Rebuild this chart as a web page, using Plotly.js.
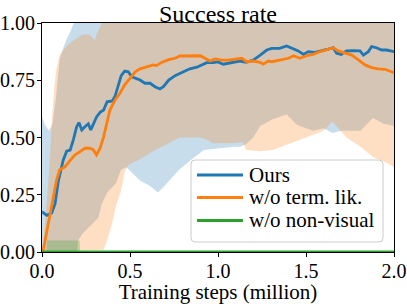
<!DOCTYPE html>
<html><head><meta charset="utf-8">
<script src="https://cdn.plot.ly/plotly-3.0.1.min.js"></script>
<style>html,body{margin:0;padding:0;background:#fff}#chart{width:407px;height:304px}</style>
</head><body><div id="chart"></div>
<script>
// ---- data ----
const seriesNames = ['Ours', 'w/o term. lik.', 'w/o non-visual'];

const oursX = [0.0,0.027,0.055,0.074,0.093,0.12,0.14,0.16,0.178,0.197,0.21,0.226,0.244,0.263,0.277,0.29,0.31,0.33,0.35,0.37,0.40,0.415,0.43,0.45,0.47,0.49,0.51,0.54,0.557,0.585,0.614,0.642,0.67,0.69,0.72,0.756,0.784,0.81,0.84,0.88,0.907,0.936,0.973,1.0,1.03,1.06,1.087,1.125,1.16,1.2,1.24,1.277,1.305,1.35,1.39,1.43,1.456,1.485,1.513,1.55,1.59,1.627,1.655,1.674,1.70,1.73,1.77,1.807,1.826,1.854,1.873,1.9,1.93,1.958,2.0];
const oursY = [0.176,0.16,0.17,0.21,0.31,0.40,0.44,0.445,0.49,0.547,0.565,0.533,0.547,0.56,0.533,0.555,0.59,0.61,0.62,0.656,0.66,0.68,0.715,0.77,0.79,0.787,0.765,0.758,0.751,0.737,0.737,0.722,0.712,0.722,0.751,0.77,0.78,0.787,0.80,0.807,0.817,0.827,0.827,0.83,0.82,0.824,0.83,0.834,0.828,0.838,0.86,0.882,0.889,0.889,0.90,0.886,0.878,0.863,0.875,0.872,0.878,0.886,0.892,0.868,0.863,0.878,0.879,0.878,0.86,0.875,0.897,0.892,0.882,0.882,0.875];
const oursUpX = [0,0.02,0.04,0.06,0.08,0.1,0.12,0.14,0.16,0.18,2.0];
const oursUpY = [0.59,0.55,0.53,0.56,0.68,0.84,0.89,0.93,0.96,1.0,1.0];
const oursLoX = [0,0.2,0.205,0.23,0.27,0.32,0.34,0.37,0.42,0.45,0.48,0.52,0.56,0.61,0.66,0.71,0.78,0.86,0.92,0.97,1.09,1.125,1.16,1.2,1.24,1.31,1.39,1.45,1.54,1.6,1.65,1.7,1.73,1.81,1.88,1.94,2.0];
const oursLoY = [0,0,0.05,0.08,0.11,0.15,0.21,0.26,0.30,0.36,0.37,0.34,0.31,0.29,0.26,0.30,0.36,0.41,0.445,0.45,0.46,0.46,0.47,0.50,0.55,0.58,0.60,0.555,0.53,0.54,0.52,0.53,0.53,0.53,0.585,0.56,0.55];

const termX = [0.005,0.02,0.035,0.045,0.064,0.083,0.10,0.13,0.16,0.1875,0.216,0.244,0.27,0.29,0.31,0.33,0.35,0.37,0.386,0.415,0.443,0.47,0.5,0.53,0.557,0.595,0.632,0.65,0.68,0.72,0.756,0.784,0.82,0.86,0.9,0.926,0.955,0.983,1.02,1.06,1.097,1.135,1.163,1.2,1.24,1.257,1.286,1.305,1.35,1.40,1.43,1.466,1.504,1.54,1.58,1.618,1.655,1.683,1.72,1.76,1.80,1.835,1.873,1.91,1.95,1.977,2.0];
const termY = [0.0,0.06,0.12,0.154,0.227,0.314,0.358,0.372,0.40,0.424,0.438,0.453,0.453,0.448,0.424,0.453,0.503,0.576,0.62,0.664,0.693,0.73,0.758,0.787,0.80,0.81,0.817,0.814,0.828,0.84,0.846,0.856,0.857,0.857,0.857,0.846,0.834,0.843,0.838,0.838,0.841,0.846,0.831,0.834,0.828,0.82,0.834,0.831,0.838,0.846,0.857,0.846,0.857,0.863,0.875,0.882,0.892,0.878,0.87,0.86,0.838,0.817,0.805,0.80,0.798,0.79,0.783];
const termUpX = [0,0.02,0.04,0.05,0.06,0.07,0.08,0.1,0.14,0.18,0.23,0.27,0.3,0.31,0.34,2.0];
const termUpY = [0.0,0.15,0.35,0.5,0.62,0.72,0.79,0.86,0.9,0.925,0.95,0.95,0.925,0.95,1.0,1.0];
const termLoX = [0,0.35,0.37,0.40,0.42,0.45,0.47,0.49,0.52,0.57,0.63,0.71,0.78,0.84,0.9,0.94,0.97,1.09,1.14,1.16,1.24,1.31,1.41,1.5,1.6,1.65,1.73,1.81,1.88,1.96,2.0];
const termLoY = [0,0.01,0.05,0.13,0.20,0.27,0.35,0.38,0.39,0.41,0.44,0.47,0.50,0.50,0.50,0.49,0.475,0.475,0.48,0.445,0.44,0.445,0.475,0.50,0.53,0.57,0.50,0.46,0.415,0.39,0.37];

const visX = [0,0.5,1.0,1.5,2.0];
const visY = [0,0,0,0,0];
const visUpX = [0,0.027,0.028,0.215,0.216,2.0];
const visUpY = [0,0,0.05,0.05,0,0];
const visLoX = [0,2.0];
const visLoY = [0,0];

const xTicks = [0,0.5,1.0,1.5,2.0];
const yTicks = [0,0.25,0.5,0.75,1.0];

// ---- styling ----
const colors = ['#1f77b4', '#ff7f0e', '#2ca02c'];
const fills = ['rgba(31,119,180,0.25)', 'rgba(255,127,14,0.25)', 'rgba(44,160,44,0.25)'];
const FONT = 'Liberation Serif, serif';
const PLOT_W = 352, PLOT_H = 229;

function band(upX, upY, loX, loY, fc) {
  return {
    x: upX.concat(loX.slice().reverse()),
    y: upY.concat(loY.slice().reverse()),
    type: 'scatter', mode: 'lines', fill: 'toself', fillcolor: fc,
    line: {width: 0, color: 'rgba(0,0,0,0)'}, showlegend: false, hoverinfo: 'skip'
  };
}
function line(x, y, c, name) {
  return {x: x, y: y, type: 'scatter', mode: 'lines', name: name,
    line: {color: c, width: 2.8}, hoverinfo: 'skip', showlegend: false};
}

const data = [
  band(oursUpX, oursUpY, oursLoX, oursLoY, fills[0]),
  band(termUpX, termUpY, termLoX, termLoY, fills[1]),
  band(visUpX, visUpY, visLoX, visLoY, fills[2]),
  line(oursX, oursY, colors[0], seriesNames[0]),
  line(termX, termY, colors[1], seriesNames[1]),
  line(visX, visY, colors[2], seriesNames[2])
];

// ---- legend box (matplotlib style, drawn in paper coordinates) ----
const LG = {x0: 0.4233, x1: 0.9688, y0: 0.0437, y1: 0.4017, r: 4,
            lineX0: 0.4403, lineX1: 0.5710, textX: 0.5824, rowY: [0.3362, 0.2380, 0.1376]};
function roundedRect(x0, y0, x1, y1, rpx) {
  const rx = rpx / PLOT_W, ry = rpx / PLOT_H;
  return 'M' + (x0 + rx) + ',' + y0 + ' L' + (x1 - rx) + ',' + y0 +
    ' Q' + x1 + ',' + y0 + ' ' + x1 + ',' + (y0 + ry) +
    ' L' + x1 + ',' + (y1 - ry) + ' Q' + x1 + ',' + y1 + ' ' + (x1 - rx) + ',' + y1 +
    ' L' + (x0 + rx) + ',' + y1 + ' Q' + x0 + ',' + y1 + ' ' + x0 + ',' + (y1 - ry) +
    ' L' + x0 + ',' + (y0 + ry) + ' Q' + x0 + ',' + y0 + ' ' + (x0 + rx) + ',' + y0 + ' Z';
}
const shapes = [{
  type: 'path', xref: 'paper', yref: 'paper', path: roundedRect(LG.x0, LG.y0, LG.x1, LG.y1, LG.r),
  fillcolor: 'rgba(255,255,255,0.8)', line: {color: '#cccccc', width: 1}, layer: 'above'
}];
const annotations = [];
seriesNames.forEach(function (name, i) {
  shapes.push({type: 'line', xref: 'paper', yref: 'paper', x0: LG.lineX0, x1: LG.lineX1,
    y0: LG.rowY[i], y1: LG.rowY[i], line: {color: colors[i], width: 2.8}, layer: 'above'});
  annotations.push({xref: 'paper', yref: 'paper', x: LG.textX, y: LG.rowY[i], text: name,
    showarrow: false, xanchor: 'left', yanchor: 'middle',
    font: {family: FONT, size: 21, color: '#000'}});
});

const axisCommon = {
  showline: true, mirror: true, linecolor: '#000', linewidth: 1,
  ticks: 'outside', ticklen: 4, tickwidth: 1, tickcolor: '#000',
  showgrid: false, zeroline: false,
  tickfont: {family: FONT, size: 20, color: '#000'}
};

const layout = {
  width: 407, height: 304,
  margin: {l: 42, r: 13, t: 23, b: 52},
  paper_bgcolor: '#fff', plot_bgcolor: '#fff',
  font: {family: FONT, color: '#000'},
  title: {text: 'Success rate', font: {family: FONT, size: 24, color: '#000'},
    x: 0.5, xref: 'paper', xanchor: 'center', y: 1, yref: 'paper', yanchor: 'bottom', pad: {b: 1}},
  xaxis: Object.assign({}, axisCommon, {
    range: [0, 2], tickvals: xTicks, tickformat: '.1f', ticklabelstandoff: -3,
    title: {text: 'Training steps (million)', font: {family: FONT, size: 21, color: '#000'}, standoff: 7}
  }),
  yaxis: Object.assign({}, axisCommon, {
    range: [0, 1], tickvals: yTicks, tickformat: '.2f', ticklabelstandoff: -2
  }),
  showlegend: false,
  shapes: shapes,
  annotations: annotations
};

Plotly.newPlot('chart', data, layout, {displayModeBar: false, staticPlot: true});
</script>
</body></html>
